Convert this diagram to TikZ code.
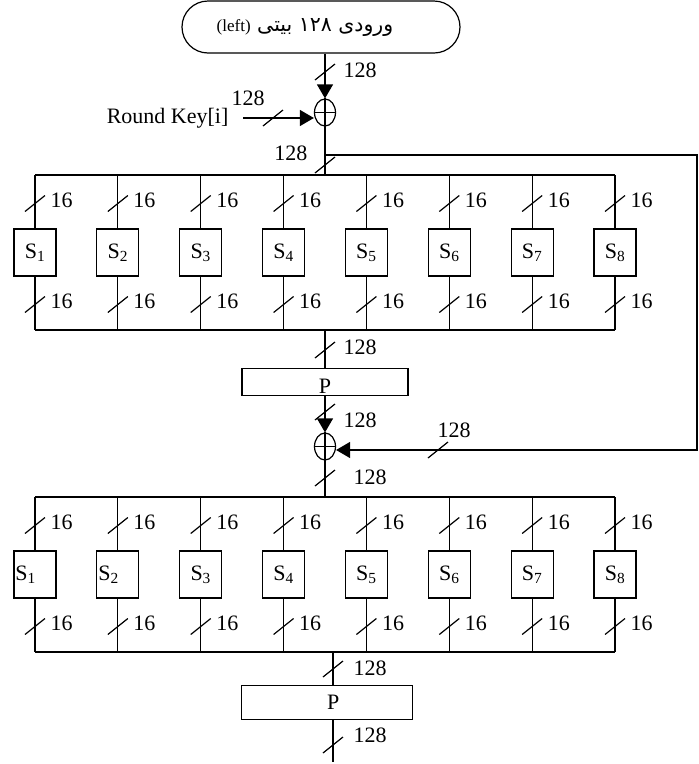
\documentclass[tikz,border=0pt]{standalone}
\usepackage{fontspec}
\setmainfont{Liberation Serif}
\newfontfamily\arabicfont[Script=Arabic]{DejaVu Sans}
\TeXXeTstate=1
\usetikzlibrary{shapes.geometric,arrows.meta}
\begin{document}
\begin{tikzpicture}[x=1pt,y=-1pt,line width=1.2pt,
  every node/.style={font=\fontsize{22}{24}\selectfont},
  lbl/.style={inner sep=0pt,anchor=west},
  lble/.style={inner sep=0pt,anchor=east},
  sbox/.style={draw,minimum width=42pt,minimum height=47pt,inner sep=0pt},
  sboxl/.style={text width=39pt,align=left,inner xsep=1.5pt},
  xorn/.style={draw,ellipse,minimum width=21pt,minimum height=27pt,inner sep=0pt},
  pbox/.style={draw,minimum height=27pt,inner sep=0pt},
  arr/.style={-{Triangle[length=14pt,width=16pt]}},
  slashmark/.pic={\draw (-10,8) -- (10,-8);},
  sv21/.style={sboxl}, sv22/.style={sboxl}]
\useasboundingbox (0,0) rectangle (699,764);

% input
\node[draw,rounded corners=26pt,minimum width=278pt,minimum height=52pt,inner sep=0pt,font=\fontsize{20.5}{22}\selectfont] (in) at (321,27) {{\arabicfont\beginR ورودی ۱۲۸ بیتی \beginL{\normalfont\fontsize{17}{18}\selectfont(left)}\endL\endR}\hspace*{32pt}};

% XOR 1
\node[xorn] (x1) at (325,112.5) {};
\draw (x1.north) -- (x1.south) (x1.west) -- (x1.east);
\draw[arr] (in.south -| x1.north) -- (x1.north);
\pic at (325,72) {slashmark};
\node[lbl] (l1) at (343,70) {128};

% round key
\node[lble] (rk) at (229,118) {Round Key[i]};
\draw[arr] ([xshift=14pt]rk.east) -- (x1.west |- rk.east);
\pic at (273,118) {slashmark};
\node[lbl] (l2) at (231,98) {128};

% below XOR1
\coordinate (br) at (325,155);
\coordinate (t1) at (325,175);
\draw (x1.south) -- (t1);
\pic at (325,165) {slashmark};
\node[lble] (l3) at (308,153) {128};

% S-box rows
\foreach \r/\dy in {1/0,2/322}{
  \draw (35,175+\dy) -- (615,175+\dy);
  \draw (35,330+\dy) -- (615,330+\dy);
  \foreach \i in {1,...,8}{
    \pgfmathsetmacro\xx{35+82.86*(\i-1)}
    \node[sbox,sv\r\i/.try] (s\r\i) at (\xx,252.5+\dy) {S\textsubscript{\i}};
    \draw (\xx,175+\dy) -- (s\r\i.north);
    \draw (s\r\i.south) -- (\xx,330+\dy);
    \pic at (\xx,203.5+\dy) {slashmark};
    \node[lbl] at (\xx+15,200+\dy) {16};
    \pic at (\xx,304.5+\dy) {slashmark};
    \node[lbl] at (\xx+15,301.5+\dy) {16};
  }
}

% P1
\coordinate (b1) at (325,330);
\node[pbox,minimum width=166pt] (p1) at (325,381.7) {\raisebox{-5pt}[\height][0pt]{P}};
\draw (b1) -- (p1.north);
\pic at (325,350) {slashmark};
\node[lbl] (l4) at (343,347) {128};

% XOR 2
\node[xorn] (x2) at (325,446.5) {};
\draw (x2.north) -- (x2.south) (x2.west) -- (x2.east);
\draw[arr] (p1.south) -- (x2.north);
\pic at (325,412) {slashmark};
\node[lbl] (l5) at (343,420) {128};

% feedback
\coordinate (fbr) at (697,450);
\draw[arr] (br) -| (fbr) -- (fbr -| x2.east);
\pic at (438,450) {slashmark};
\node[lbl] (l6) at (437,430) {128};

% below XOR2
\coordinate (t2) at (325,497);
\draw (x2.south) -- (t2);
\pic at (325,478) {slashmark};
\node[lbl] (l7) at (353,477) {128};

% P2
\coordinate (b2) at (333,652);
\node[pbox,minimum width=171pt,minimum height=34pt] (p2) at (327.2,702.5) {\hspace*{12pt}P};
\draw (b2) -- (b2 |- p2.north);
\coordinate (end) at (333,762);
\draw (b2 |- p2.south) -- (end);
\pic at (333,669) {slashmark};
\node[lbl] (l8) at (353,668) {128};
\pic at (333,745) {slashmark};
\node[lbl] (l9) at (353,735) {128};
\end{tikzpicture}
\end{document}
